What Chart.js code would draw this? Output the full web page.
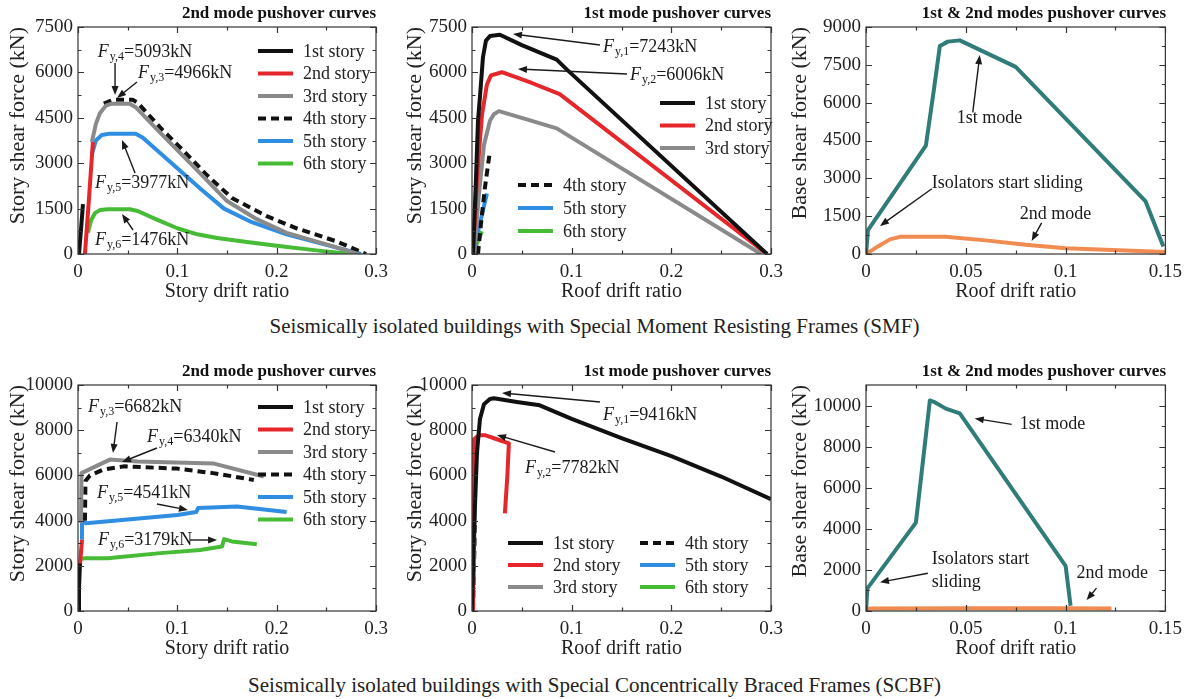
<!DOCTYPE html>
<html>
<head>
<meta charset="utf-8">
<script src="https://cdn.jsdelivr.net/npm/chart.js@4.4.0/dist/chart.umd.min.js"></script>
<style>
  body { margin: 0; background: #fff; width: 1189px; height: 699px; position: relative; overflow: hidden; font-family: 'Liberation Serif', 'DejaVu Serif', serif; }
  canvas { position: absolute; }
  .cap { position: absolute; left: 0; width: 1189px; text-align: center; font-size: 21px; line-height: 24px; color: #222; }
</style>
</head>
<body>
<canvas id="smf2" width="396" height="305" style="left:0;top:0"></canvas>
<canvas id="smf1" width="394" height="305" style="left:397px;top:0"></canvas>
<canvas id="smfAll" width="407" height="305" style="left:782px;top:0"></canvas>
<div class="cap" style="top:314px">Seismically isolated buildings with Special Moment Resisting Frames (SMF)</div>
<canvas id="scbf2" width="396" height="304" style="left:0;top:358px"></canvas>
<canvas id="scbf1" width="394" height="304" style="left:397px;top:358px"></canvas>
<canvas id="scbfAll" width="407" height="304" style="left:782px;top:358px"></canvas>
<div class="cap" style="top:673px">Seismically isolated buildings with Special Concentrically Braced Frames (SCBF)</div>

<script>
const storyLabels = ['1st story', '2nd story', '3rd story', '4th story', '5th story', '6th story'];
const modeLabels = ['1st mode', '2nd mode'];
const scbfBaseTicks = [0, 2000, 4000, 6000, 8000, 10000];

// [drift ratio, shear force kN]

// SMF, 2nd mode pushover
const smfM2Story1 = [[0.001, 0], [0.003, 800], [0.005, 1650]];
const smfM2Story2 = [[0.007, 0], [0.011, 1800], [0.015, 3700]];
const smfM2Story3 = [[0.014, 3700], [0.018, 4300], [0.022, 4650], [0.028, 4900], [0.034, 4966], [0.052, 4966], [0.058, 4850], [0.08, 4100], [0.1, 3430], [0.125, 2600], [0.15, 1750], [0.18, 1150], [0.21, 700], [0.25, 320], [0.282, 0]];
const smfM2Story4 = [[0.026, 4966], [0.035, 5093], [0.055, 5093], [0.06, 5000], [0.085, 4100], [0.105, 3450], [0.13, 2600], [0.155, 1850], [0.19, 1250], [0.22, 850], [0.26, 420], [0.29, 0]];
const smfM2Story5 = [[0.014, 3300], [0.018, 3750], [0.024, 3930], [0.032, 3977], [0.058, 3977], [0.065, 3850], [0.1, 2830], [0.125, 2110], [0.147, 1500], [0.175, 1050], [0.21, 650], [0.25, 300], [0.285, 0]];
const smfM2Story6 = [[0.01, 700], [0.013, 1100], [0.017, 1350], [0.022, 1450], [0.03, 1476], [0.052, 1476], [0.06, 1420], [0.08, 1130], [0.1, 850], [0.12, 650], [0.14, 530], [0.17, 400], [0.2, 270], [0.24, 120], [0.275, 0]];

// SMF, 1st mode pushover
const smfM1Story1 = [[0.001, 0], [0.004, 2500], [0.006, 4400], [0.008, 5200], [0.011, 6500], [0.014, 7050], [0.018, 7200], [0.028, 7243], [0.05, 6900], [0.085, 6420], [0.095, 6100], [0.296, 0]];
const smfM1Story2 = [[0.001, 0], [0.005, 2500], [0.01, 4600], [0.015, 5600], [0.019, 5900], [0.03, 6006], [0.06, 5650], [0.088, 5280], [0.296, 0]];
const smfM1Story3 = [[0.002, 0], [0.007, 2000], [0.012, 3600], [0.018, 4400], [0.022, 4620], [0.027, 4720], [0.06, 4400], [0.085, 4150], [0.29, 0]];
const smfM1Story4 = [[0.006, 0], [0.009, 1000], [0.013, 2200], [0.018, 3400]];
const smfM1Story5 = [[0.001, 0], [0.005, 600], [0.01, 1300], [0.015, 2000]];
const smfM1Story6 = [[0, 0], [0.005, 350], [0.01, 750]];

// SMF, base shear 1st & 2nd modes
const smfMode1 = [[0, 0], [0.001, 950], [0.03, 4300], [0.034, 6500], [0.037, 8250], [0.041, 8420], [0.047, 8470], [0.075, 7420], [0.14, 2100], [0.149, 300]];
const smfMode2 = [[0, 0], [0.006, 300], [0.012, 580], [0.017, 680], [0.04, 680], [0.06, 540], [0.08, 370], [0.1, 230], [0.13, 140], [0.15, 80]];

// SCBF, 2nd mode pushover
const scbfM2Story1 = [[0, 0], [0.001, 1000], [0.002, 2100]];
const scbfM2Story2 = [[0.002, 2050], [0.003, 2600], [0.004, 3150]];
const scbfM2Story3 = [[0.003, 3900], [0.0035, 6100], [0.032, 6700], [0.06, 6620], [0.136, 6530], [0.187, 5950]];
const scbfM2Story4 = [[0.007, 4000], [0.0075, 5750], [0.012, 6000], [0.025, 6250], [0.046, 6400], [0.1, 6300], [0.136, 6100], [0.177, 5800]];
const scbfM2Story5 = [[0.004, 3150], [0.004, 4000], [0.008, 3880], [0.05, 4050], [0.1, 4250], [0.119, 4380], [0.121, 4560], [0.16, 4620], [0.21, 4380]];
const scbfM2Story6 = [[0.004, 2300], [0.006, 2330], [0.03, 2330], [0.08, 2550], [0.123, 2700], [0.145, 2850], [0.147, 3179], [0.155, 3080], [0.18, 2950]];

// SCBF, 1st mode pushover
const scbfM1Story1 = [[0, 0], [0.002, 3500], [0.005, 7000], [0.008, 8500], [0.012, 9150], [0.018, 9380], [0.022, 9416], [0.045, 9250], [0.068, 9100], [0.1, 8500], [0.15, 7650], [0.2, 6850], [0.25, 5950], [0.3, 4950]];
const scbfM1Story2 = [[0, 0], [0.001, 4000], [0.002, 7600], [0.007, 7780], [0.013, 7782], [0.025, 7600], [0.037, 7420], [0.0355, 6000], [0.033, 4320]];
const scbfM1Story3 = [[0.001, 0], [0.002, 2500], [0.003, 4800]];
const scbfM1Story4 = [[0.001, 0], [0.002, 2000], [0.003, 3900]];
const scbfM1Story5 = [[0.0005, 700], [0.001, 1200], [0.002, 1700]];
const scbfM1Story6 = [[0, 0], [0.0005, 150], [0.001, 300]];

// SCBF, base shear 1st & 2nd modes
const scbfMode1 = [[0, 0], [0.0007, 1100], [0.025, 4300], [0.032, 10250], [0.034, 10180], [0.04, 9850], [0.047, 9620], [0.1, 2200], [0.1025, 250]];
const scbfMode2 = [[0, 0], [0.002, 120], [0.05, 130], [0.1, 130], [0.123, 120]];

const serif = "'Liberation Serif', 'DejaVu Serif', serif";
const storyColors = ['#111111', '#e5262b', '#8a8a8a', '#111111', '#2f8de2', '#47bb36'];
const storyDash = [[], [], [], [8, 5], [], []];
const modeColors = ['#2f7c79', '#f08b52'];

function pts(arr) {
  return arr.map(p => ({ x: p[0], y: p[1] }));
}

function line(label, data, color, dash) {
  return {
    label: label, data: pts(data), showLine: true, borderColor: color, backgroundColor: color,
    borderWidth: 4, borderDash: dash || [], pointRadius: 0, fill: false,
    borderJoinStyle: 'round', tension: 0
  };
}

function storySets(series) {
  return series.map((s, i) => line(storyLabels[i], s, storyColors[i], storyDash[i]));
}

// F_{y,n}=value label
function fy(n, value) {
  return [['F', 'i'], ['y,' + n, 's'], ['=' + value, '']];
}

// inward ticks on all four sides, major + minor
const framePlugin = {
  id: 'frame',
  afterDatasetsDraw(chart) {
    const { ctx, chartArea: a, scales } = chart;
    ctx.save();
    ctx.strokeStyle = '#333';
    ctx.lineWidth = 1.2;
    ctx.strokeRect(a.left, a.top, a.right - a.left, a.bottom - a.top);
    const marks = (scale) => {
      const v = scale.ticks.map(t => t.value);
      const step = v[1] - v[0];
      const out = [];
      v.forEach(t => {
        out.push([t, 6]);
        if (t + step / 2 < scale.max - 1e-9) out.push([t + step / 2, 3.5]);
      });
      return out;
    };
    ctx.beginPath();
    marks(scales.x).forEach(([v, len]) => {
      const px = Math.round(scales.x.getPixelForValue(v)) + 0.5;
      ctx.moveTo(px, a.bottom); ctx.lineTo(px, a.bottom - len);
      ctx.moveTo(px, a.top); ctx.lineTo(px, a.top + len);
    });
    marks(scales.y).forEach(([v, len]) => {
      const py = Math.round(scales.y.getPixelForValue(v)) + 0.5;
      ctx.moveTo(a.left, py); ctx.lineTo(a.left + len, py);
      ctx.moveTo(a.right, py); ctx.lineTo(a.right - len, py);
    });
    ctx.stroke();
    ctx.restore();
  }
};

// legend drawn inside the plot area
const boxLegendPlugin = {
  id: 'boxLegend',
  afterDraw(chart, args, opts) {
    if (!opts.groups) return;
    const { ctx, chartArea: a } = chart;
    ctx.save();
    ctx.font = '18px ' + serif;
    ctx.textBaseline = 'middle';
    ctx.fillStyle = '#222';
    opts.groups.forEach(g => {
      g.items.forEach((idx, k) => {
        const ds = chart.data.datasets[idx];
        const x0 = a.left + g.dx;
        const y0 = a.top + g.dy + k * g.gap;
        ctx.strokeStyle = ds.borderColor;
        ctx.lineWidth = 4;
        ctx.setLineDash(ds.borderDash || []);
        ctx.beginPath();
        ctx.moveTo(x0, y0); ctx.lineTo(x0 + 35, y0);
        ctx.stroke();
        ctx.setLineDash([]);
        ctx.fillText(ds.label, x0 + 45, y0 + 1);
      });
    });
    ctx.restore();
  }
};

// text notes with arrows, positioned in data units
const notesPlugin = {
  id: 'notes',
  afterDraw(chart, args, opts) {
    if (!opts.items) return;
    const { ctx, scales: { x, y } } = chart;
    ctx.save();
    ctx.fillStyle = '#1a1a1a';
    ctx.strokeStyle = '#1a1a1a';
    ctx.textBaseline = 'middle';
    opts.items.forEach(n => {
      let px = x.getPixelForValue(n.at[0]);
      const py = y.getPixelForValue(n.at[1]);
      const parts = typeof n.text === 'string' ? [[n.text, '']] : n.text;
      parts.forEach(([t, style]) => {
        if (style === 'i') ctx.font = 'italic 18px ' + serif;
        else if (style === 's') ctx.font = '12px ' + serif;
        else ctx.font = '18px ' + serif;
        ctx.fillText(t, px, style === 's' ? py + 5 : py);
        px += ctx.measureText(t).width + (style === 'i' ? 1 : 0);
      });
      if (n.arrow) {
        const x1 = x.getPixelForValue(n.arrow[0][0]), y1 = y.getPixelForValue(n.arrow[0][1]);
        const x2 = x.getPixelForValue(n.arrow[1][0]), y2 = y.getPixelForValue(n.arrow[1][1]);
        const ang = Math.atan2(y2 - y1, x2 - x1);
        ctx.lineWidth = 1.4;
        ctx.beginPath();
        ctx.moveTo(x1, y1);
        ctx.lineTo(x2 - 6 * Math.cos(ang), y2 - 6 * Math.sin(ang));
        ctx.stroke();
        ctx.beginPath();
        ctx.moveTo(x2, y2);
        ctx.lineTo(x2 - 9 * Math.cos(ang) + 3.5 * Math.sin(ang), y2 - 9 * Math.sin(ang) - 3.5 * Math.cos(ang));
        ctx.lineTo(x2 - 9 * Math.cos(ang) - 3.5 * Math.sin(ang), y2 - 9 * Math.sin(ang) + 3.5 * Math.cos(ang));
        ctx.closePath();
        ctx.fill();
      }
    });
    ctx.restore();
  }
};

function fmt(v) {
  return String(Number(v.toFixed(3)));
}

function makeChart(id, c) {
  return new Chart(document.getElementById(id), {
    type: 'scatter',
    data: { datasets: c.datasets },
    options: {
      responsive: false,
      animation: false,
      devicePixelRatio: 1,
      events: [],
      layout: { padding: { left: 0, right: c.padRight, top: 0, bottom: 0 } },
      plugins: {
        legend: { display: false },
        tooltip: { enabled: false },
        title: {
          display: true, text: c.title, align: 'end', color: '#111',
          font: { family: serif, size: 17, weight: 'bold' }, padding: { top: 3, bottom: 3.6 }
        },
        boxLegend: c.legend || {},
        notes: { items: c.notes || [] }
      },
      scales: {
        x: {
          type: 'linear', min: 0, max: c.xMax,
          grid: { display: false, drawTicks: false },
          border: { display: false },
          ticks: { stepSize: c.xStep, padding: 7, maxRotation: 0, autoSkip: false, color: '#222', font: { family: serif, size: 19 }, callback: fmt },
          title: { display: true, text: c.xTitle, color: '#222', font: { family: serif, size: 20 }, padding: { top: 0, bottom: 1 } },
          afterFit: s => { s.height = 51; }
        },
        y: {
          type: 'linear', min: 0, max: c.yMax,
          grid: { display: false, drawTicks: false },
          border: { display: false },
          ticks: { stepSize: c.yStep, padding: 5, autoSkip: false, color: '#222', font: { family: serif, size: 19 }, callback: fmt },
          title: { display: true, text: c.yTitle, align: 'end', color: '#222', font: { family: serif, size: 22 }, padding: { top: 5, bottom: 0 } },
          afterBuildTicks: s => { if (c.yTicks) s.ticks = c.yTicks.map(v => ({ value: v })); },
          afterFit: s => { s.width = c.yWidth; }
        }
      }
    },
    plugins: [framePlugin, boxLegendPlugin, notesPlugin]
  });
}

const allStories = [0, 1, 2, 3, 4, 5];

makeChart('smf2', {
  title: '2nd mode pushover curves', xTitle: 'Story drift ratio', yTitle: 'Story shear force (kN)',
  xMax: 0.3, xStep: 0.1, yMax: 7500, yStep: 1500, yWidth: 78, padRight: 20,
  datasets: storySets([smfM2Story1, smfM2Story2, smfM2Story3, smfM2Story4, smfM2Story5, smfM2Story6]),
  legend: { groups: [{ dx: 180, dy: 24, gap: 22.5, items: allStories }] },
  notes: [
    { text: fy(4, '5093kN'), at: [0.02, 6674], arrow: [[0.0373, 6311], [0.0373, 5250]] },
    { text: fy(3, '4966kN'), at: [0.0604, 5980], arrow: [[0.0594, 5683], [0.0393, 5154]] },
    { text: fy(5, '3977kN'), at: [0.0171, 2346], arrow: [[0.0574, 2676], [0.0443, 3766]] },
    { text: fy(6, '1476kN'), at: [0.0171, 463], arrow: [[0.0554, 793], [0.0443, 1322]] }
  ]
});

makeChart('smf1', {
  title: '1st mode pushover curves', xTitle: 'Roof drift ratio', yTitle: 'Story shear force (kN)',
  xMax: 0.3, xStep: 0.1, yMax: 7500, yStep: 1500, yWidth: 75, padRight: 20,
  datasets: storySets([smfM1Story1, smfM1Story2, smfM1Story3, smfM1Story4, smfM1Story5, smfM1Story6]),
  legend: { groups: [
    { dx: 188, dy: 76, gap: 22.5, items: [0, 1, 2] },
    { dx: 46, dy: 158, gap: 23, items: [3, 4, 5] }
  ] },
  notes: [
    { text: fy(1, '7243kN'), at: [0.1314, 6839], arrow: [[0.1284, 6905], [0.0411, 7269]] },
    { text: fy(2, '6006kN'), at: [0.1585, 5914], arrow: [[0.1555, 5947], [0.0461, 6112]] }
  ]
});

makeChart('smfAll', {
  title: '1st & 2nd modes pushover curves', xTitle: 'Roof drift ratio', yTitle: 'Base shear force (kN)',
  xMax: 0.15, xStep: 0.05, yMax: 9000, yStep: 1500, yWidth: 84, padRight: 23,
  datasets: [line(modeLabels[0], smfMode1, modeColors[0]), line(modeLabels[1], smfMode2, modeColors[1])],
  notes: [
    { text: '1st mode', at: [0.0455, 5376], arrow: [[0.0535, 5615], [0.057, 7885]] },
    { text: 'Isolators start sliding', at: [0.033, 2788], arrow: [[0.033, 2588], [0.007, 1115]] },
    { text: '2nd mode', at: [0.077, 1593], arrow: [[0.088, 1234], [0.083, 518]] }
  ]
});

makeChart('scbf2', {
  title: '2nd mode pushover curves', xTitle: 'Story drift ratio', yTitle: 'Story shear force (kN)',
  xMax: 0.3, xStep: 0.1, yMax: 10000, yStep: 2000, yWidth: 78, padRight: 20,
  datasets: storySets([scbfM2Story1, scbfM2Story2, scbfM2Story3, scbfM2Story4, scbfM2Story5, scbfM2Story6]),
  legend: { groups: [{ dx: 180, dy: 22, gap: 22.5, items: allStories }] },
  notes: [
    { text: fy(3, '6682kN'), at: [0.01, 9027], arrow: [[0.0393, 8363], [0.0352, 6991]] },
    { text: fy(4, '6340kN'), at: [0.0695, 7699], arrow: [[0.0795, 7212], [0.0443, 6593]] },
    { text: fy(5, '4541kN'), at: [0.0191, 5221], arrow: [[0.0795, 4735], [0.1107, 4469]] },
    { text: fy(6, '3179kN'), at: [0.0201, 3142], arrow: [[0.1128, 3142], [0.14, 3142]] }
  ]
});

makeChart('scbf1', {
  title: '1st mode pushover curves', xTitle: 'Roof drift ratio', yTitle: 'Story shear force (kN)',
  xMax: 0.3, xStep: 0.1, yMax: 10000, yStep: 2000, yWidth: 75, padRight: 20,
  datasets: storySets([scbfM1Story1, scbfM1Story2, scbfM1Story3, scbfM1Story4, scbfM1Story5, scbfM1Story6]),
  legend: { groups: [
    { dx: 36, dy: 158, gap: 22, items: [0, 1, 2] },
    { dx: 168, dy: 158, gap: 22, items: [3, 4, 5] }
  ] },
  notes: [
    { text: fy(1, '9416kN'), at: [0.1314, 8673], arrow: [[0.1284, 9248], [0.0301, 9646]] },
    { text: fy(2, '7782kN'), at: [0.0532, 6327], arrow: [[0.0833, 7035], [0.0251, 7788]] }
  ]
});

makeChart('scbfAll', {
  title: '1st & 2nd modes pushover curves', xTitle: 'Roof drift ratio', yTitle: 'Base shear force (kN)',
  xMax: 0.15, xStep: 0.05, yMax: 11000, yStep: 2000, yTicks: scbfBaseTicks, yWidth: 84, padRight: 23,
  datasets: [line(modeLabels[0], scbfMode1, modeColors[0]), line(modeLabels[1], scbfMode2, modeColors[1])],
  notes: [
    { text: '1st mode', at: [0.077, 9082], arrow: [[0.073, 9082], [0.0545, 9372]] },
    { text: 'Isolators start', at: [0.033, 2512] },
    { text: 'sliding', at: [0.033, 1401], arrow: [[0.031, 1836], [0.007, 1401]] },
    { text: '2nd mode', at: [0.1055, 1836], arrow: [[0.1155, 1111], [0.1105, 531]] }
  ]
});
</script>
</body>
</html>
